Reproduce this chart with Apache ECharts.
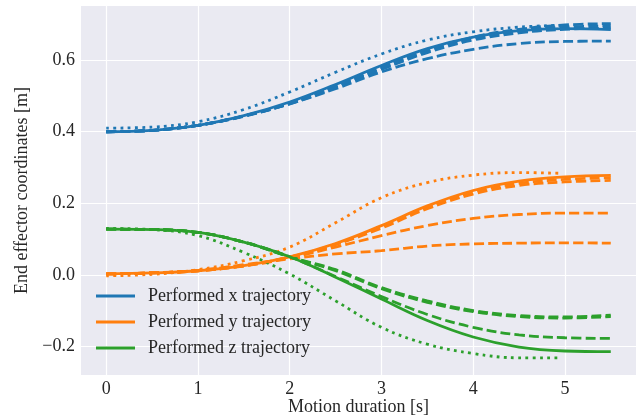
<!DOCTYPE html>
<html><head><meta charset="utf-8">
<script src="https://cdn.jsdelivr.net/npm/echarts@6/dist/echarts.min.js"></script>
<style>html,body{margin:0;padding:0;background:#fff}#c{width:643px;height:419px}</style>
</head><body><div id="c"></div>
<script>
const times = [0, 0.5, 1, 1.5, 2, 2.5, 3, 3.5, 4, 4.5, 5, 5.5];
const dottedTimes = [0, 0.5, 1, 1.5, 2, 2.5, 3, 3.5, 4, 4.5, 4.95];
const xTicks = [0, 1, 2, 3, 4, 5];
const yTicks = [-0.2, 0.0, 0.2, 0.4, 0.6];

const xPerformed = [0.400,0.404,0.418,0.445,0.483,0.532,0.585,0.632,0.664,0.682,0.688,0.685];
const xDotted    = [0.410,0.413,0.428,0.462,0.511,0.566,0.617,0.656,0.679,0.692,0.697];
const xDashed1   = [0.400,0.404,0.418,0.444,0.480,0.528,0.580,0.628,0.664,0.686,0.698,0.702];
const xDashed2   = [0.400,0.404,0.418,0.444,0.479,0.526,0.577,0.625,0.660,0.681,0.692,0.695];
const xDashed3   = [0.400,0.404,0.418,0.443,0.478,0.524,0.574,0.621,0.656,0.676,0.686,0.689];
const xDashed4   = [0.400,0.404,0.418,0.444,0.478,0.520,0.567,0.604,0.630,0.646,0.652,0.653];

const yPerformed = [0.003,0.006,0.012,0.026,0.051,0.088,0.138,0.193,0.236,0.262,0.274,0.278];
const yDotted    = [-0.002,0.002,0.015,0.040,0.078,0.146,0.216,0.258,0.279,0.286,0.284];
const yDashed1   = [0.003,0.006,0.012,0.026,0.050,0.086,0.135,0.190,0.232,0.256,0.267,0.272];
const yDashed2   = [0.003,0.006,0.012,0.026,0.050,0.085,0.131,0.185,0.226,0.250,0.260,0.264];
const yDashed3   = [0.003,0.006,0.012,0.025,0.048,0.078,0.110,0.138,0.158,0.169,0.173,0.173];
const yDashed4   = [0.003,0.006,0.013,0.029,0.045,0.059,0.068,0.081,0.087,0.089,0.090,0.089];

const zPerformed = [0.128,0.127,0.119,0.092,0.051,-0.006,-0.067,-0.127,-0.173,-0.201,-0.212,-0.214];
const zDotted    = [0.130,0.127,0.110,0.063,0.003,-0.072,-0.146,-0.193,-0.219,-0.231,-0.231];
const zDashed1   = [0.128,0.127,0.119,0.092,0.051,0.015,-0.035,-0.072,-0.099,-0.113,-0.117,-0.112];
const zDashed2   = [0.128,0.127,0.119,0.092,0.051,0.012,-0.038,-0.076,-0.102,-0.116,-0.120,-0.116];
const zDashed3   = [0.128,0.127,0.119,0.092,0.051,-0.004,-0.060,-0.110,-0.146,-0.167,-0.175,-0.177];

const BLUE = '#1f77b4', ORANGE = '#ff7f0e', GREEN = '#2ca02c';
const FONT = '"Liberation Serif", "Times New Roman", serif';
const LW = 2.8;

function pairs(ts, vs) { return vs.map((v, i) => [ts[i], v]); }
function line(name, ts, vs, color, type, z) {
  return {
    name, type: 'line', data: pairs(ts, vs), smooth: 0.4, symbol: 'none', z: z,
    lineStyle: { color, width: LW, type },
    itemStyle: { color }, emphasis: { disabled: true }
  };
}
const DASH = [10, 4.2];
const DOT = [2.8, 4.4];

const series = [
  line('x dashed 4', times, xDashed4, BLUE, DASH, 2),
  line('x dashed 3', times, xDashed3, BLUE, DASH, 2),
  line('x dashed 2', times, xDashed2, BLUE, DASH, 2),
  line('x dashed 1', times, xDashed1, BLUE, DASH, 2),
  line('x dotted', dottedTimes, xDotted, BLUE, DOT, 2),
  line('y dashed 4', times, yDashed4, ORANGE, DASH, 2),
  line('y dashed 3', times, yDashed3, ORANGE, DASH, 2),
  line('y dashed 2', times, yDashed2, ORANGE, DASH, 2),
  line('y dashed 1', times, yDashed1, ORANGE, DASH, 2),
  line('y dotted', dottedTimes, yDotted, ORANGE, DOT, 2),
  line('z dashed 3', times, zDashed3, GREEN, DASH, 2),
  line('z dashed 2', times, zDashed2, GREEN, DASH, 2),
  line('z dashed 1', times, zDashed1, GREEN, DASH, 2),
  line('z dotted', dottedTimes, zDotted, GREEN, DOT, 2),
  line('Performed x trajectory', times, xPerformed, BLUE, 'solid', 3),
  line('Performed y trajectory', times, yPerformed, ORANGE, 'solid', 3),
  line('Performed z trajectory', times, zPerformed, GREEN, 'solid', 3)
];

const chart = echarts.init(document.getElementById('c'), null, { renderer: 'canvas' });
chart.setOption({
  animation: false,
  backgroundColor: '#ffffff',
  textStyle: { fontFamily: FONT },
  grid: { left: 81, top: 6, width: 555, height: 369, show: true, backgroundColor: '#EAEAF2', borderWidth: 0,
          containLabel: false, outerBoundsMode: 'none' },
  legend: {
    data: ['Performed x trajectory', 'Performed y trajectory', 'Performed z trajectory'],
    orient: 'vertical', left: 96, top: 287, padding: 0,
    icon: 'rect', itemWidth: 39, itemHeight: 3, itemGap: 8,
    textStyle: { fontFamily: FONT, fontSize: 18, color: '#262626', padding: [0, 0, 0, 8] },
    selectedMode: false
  },
  xAxis: {
    type: 'value', min: -0.275, max: 5.775,
    name: 'Motion duration [s]', nameLocation: 'middle', nameGap: 23, nameMoveOverlap: false,
    nameTextStyle: { fontFamily: FONT, fontSize: 18, color: '#262626' },
    axisLine: { show: false }, axisTick: { show: false, customValues: xTicks },
    axisLabel: { customValues: xTicks, margin: 5, fontFamily: FONT, fontSize: 18, color: '#262626' },
    splitLine: { show: true, lineStyle: { color: '#ffffff', width: 1.2 } }
  },
  yAxis: {
    type: 'value', min: -0.279, max: 0.751,
    name: 'End effector coordinates [m]', nameLocation: 'middle', nameGap: 50, nameRotate: 90,
    nameTextStyle: { fontFamily: FONT, fontSize: 18, color: '#262626' },
    axisLine: { show: false }, axisTick: { show: false, customValues: yTicks },
    axisLabel: { customValues: yTicks, margin: 6, fontFamily: FONT, fontSize: 18, color: '#262626',
      formatter: v => (v < 0 ? '\u2212' : '') + Math.abs(v).toFixed(1) },
    splitLine: { show: true, lineStyle: { color: '#ffffff', width: 1.2 } }
  },
  series
});
</script>
</body></html>
